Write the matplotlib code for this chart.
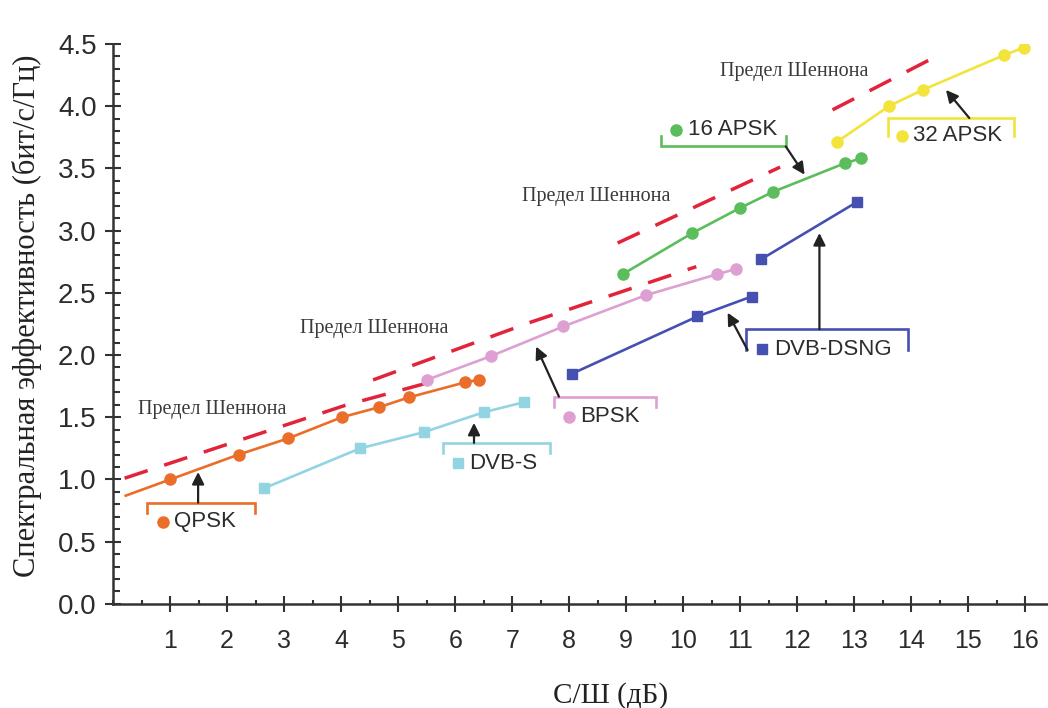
import matplotlib
matplotlib.use("Agg")
import matplotlib.pyplot as plt
from matplotlib.ticker import MultipleLocator

# ---- data ----
qpsk_x = [0.22, 1.0, 2.2, 3.07, 4.01, 4.66, 5.19, 6.17, 6.41]
qpsk_y = [0.87, 1.0, 1.2, 1.33, 1.50, 1.58, 1.66, 1.78, 1.80]

dvbs_x = [2.65, 4.33, 5.45, 6.5, 7.2]
dvbs_y = [0.93, 1.25, 1.38, 1.54, 1.62]

bpsk_x = [5.5, 6.62, 7.9, 9.34, 10.6, 10.92]
bpsk_y = [1.80, 1.99, 2.23, 2.48, 2.65, 2.69]

dsng1_x = [8.05, 10.25, 11.2]
dsng1_y = [1.85, 2.31, 2.47]
dsng2_x = [11.37, 13.05]
dsng2_y = [2.77, 3.23]

apsk16_x = [8.94, 10.16, 10.99, 11.57, 12.83, 13.12]
apsk16_y = [2.65, 2.98, 3.18, 3.31, 3.54, 3.58]

apsk32_x = [12.69, 13.61, 14.2, 15.63, 15.98]
apsk32_y = [3.71, 4.00, 4.13, 4.41, 4.47]

# Shannon limit pieces
sh1_x = [0.2, 4.1, 5.55]
sh1_y = [1.01, 1.60, 1.78]
sh2_x = [4.56, 7.3, 10.23]
sh2_y = [1.80, 2.26, 2.71]
sh3_x = [8.85, 11.7]
sh3_y = [2.90, 3.51]
sh4_x = [12.62, 14.44]
sh4_y = [3.97, 4.40]

shannon_label = "Предел Шеннона"
shannon_pos = [(0.44, 1.56), (3.28, 2.21), (7.17, 3.27), (10.64, 4.28)]

c_qpsk = "#EA6E2A"
c_dvbs = "#93D4E2"
c_bpsk = "#DE9FD2"
c_dsng = "#4650B0"
c_16 = "#5CBD5C"
c_32 = "#F2E43A"
c_sh = "#E2233A"
txt = "#2c2c2c"

fig = plt.figure(figsize=(10.48, 7.08), dpi=100)
ax = fig.add_axes([0.108, 0.147, 0.892, 0.791])

# Shannon limits
for xs, ys in [(sh1_x, sh1_y), (sh2_x, sh2_y), (sh3_x, sh3_y), (sh4_x, sh4_y)]:
    ax.plot(xs, ys, color=c_sh, lw=2.5, dashes=(7, 5), zorder=2)

ax.plot(qpsk_x, qpsk_y, color=c_qpsk, lw=1.9, marker="o", ms=8,
        markevery=list(range(1, len(qpsk_x))), zorder=3)
ax.plot(dvbs_x, dvbs_y, color=c_dvbs, lw=1.9, marker="s", ms=7, zorder=3)
ax.plot(bpsk_x, bpsk_y, color=c_bpsk, lw=1.9, marker="o", ms=8, zorder=3)
ax.plot(dsng1_x, dsng1_y, color=c_dsng, lw=1.9, marker="s", ms=7, zorder=3)
ax.plot(dsng2_x, dsng2_y, color=c_dsng, lw=1.9, marker="s", ms=7, zorder=3)
ax.plot(apsk16_x, apsk16_y, color=c_16, lw=1.9, marker="o", ms=8, zorder=3)
ax.plot(apsk32_x, apsk32_y, color=c_32, lw=1.9, marker="o", ms=8, zorder=3)

for (tx, ty) in shannon_pos:
    ax.text(tx, ty, shannon_label, family="Liberation Serif", fontsize=14.5,
            color="#3a3a3a", va="center", ha="left")


def bracket(x0, x1, y, yend, color):
    ax.plot([x0, x0, x1, x1], [yend, y, y, yend], color=color, lw=1.9,
            solid_joinstyle="miter", zorder=3)


def arrow(x0, y0, x1, y1):
    ax.annotate("", xy=(x1, y1), xytext=(x0, y0),
                arrowprops=dict(arrowstyle="-|>", color="#222222", lw=1.6,
                                mutation_scale=18, shrinkA=0, shrinkB=0),
                zorder=4)


def key(x, y, marker, color, label):
    ax.plot([x], [y], marker=marker, color=color, ms=8 if marker == "o" else 7,
            ls="none", zorder=3)
    ax.text(x + 0.2, y, label, family="Liberation Sans", fontsize=16,
            color=txt, va="center", ha="left")


# QPSK
bracket(0.59, 2.49, 0.814, 0.733, c_qpsk)
arrow(1.49, 0.814, 1.49, 1.06)
key(0.875, 0.66, "o", c_qpsk, "QPSK")
# DVB-S
bracket(5.78, 7.66, 1.294, 1.214, c_dvbs)
arrow(6.33, 1.294, 6.33, 1.455)
key(6.05, 1.13, "s", c_dvbs, "DVB-S")
# BPSK
bracket(7.73, 9.52, 1.666, 1.586, c_bpsk)
arrow(7.82, 1.666, 7.42, 2.068)
key(7.99, 1.506, "o", c_bpsk, "BPSK")
# DVB-DSNG
bracket(11.10, 13.95, 2.208, 2.04, c_dsng)
arrow(11.13, 2.04, 10.78, 2.34)
arrow(12.39, 2.208, 12.39, 2.98)
key(11.39, 2.046, "s", c_dsng, "DVB-DSNG")
# 16 APSK
bracket(9.61, 11.80, 3.676, 3.757, c_16)
arrow(11.80, 3.676, 12.13, 3.449)
key(9.88, 3.81, "o", c_16, "16 APSK")
# 32 APSK
bracket(13.59, 15.81, 3.904, 3.757, c_32)
arrow(15.02, 3.904, 14.61, 4.13)
key(13.84, 3.76, "o", c_32, "32 APSK")

ax.set_xlim(0, 16.4)
ax.set_ylim(0, 4.5)
ax.set_xticks(range(1, 17))
ax.set_yticks([0, 0.5, 1, 1.5, 2, 2.5, 3, 3.5, 4, 4.5])
ax.set_yticklabels(["0.0", "0.5", "1.0", "1.5", "2.0", "2.5", "3.0",
                    "3.5", "4.0", "4.5"])
ax.xaxis.set_minor_locator(MultipleLocator(0.5))
ax.yaxis.set_minor_locator(MultipleLocator(0.1))
ax.tick_params(axis="both", which="major", direction="inout", length=12,
               width=1.5, color="#333333", labelcolor=txt)
ax.tick_params(axis="y", which="minor", direction="in", length=5, width=1.5,
               color="#333333")
ax.tick_params(axis="x", which="minor", direction="in", length=3, width=1.5,
               color="#333333")
ax.tick_params(axis="y", which="major", pad=6, labelsize=20)
ax.tick_params(axis="x", which="major", pad=12, labelsize=18)
for lab in ax.get_xticklabels() + ax.get_yticklabels():
    lab.set_family("Liberation Sans")

for s in ["top", "right"]:
    ax.spines[s].set_visible(False)
for s in ["left", "bottom"]:
    ax.spines[s].set_linewidth(1.8)
    ax.spines[s].set_color("#333333")

ax.set_ylabel("Спектральная эффективность (бит/с/Гц)", family="Liberation Serif",
              fontsize=22, color="#222222")
ax.yaxis.set_label_coords(-0.076, 0.515)
ax.set_xlabel("С/Ш (дБ)", family="Liberation Serif", fontsize=21,
              color="#222222")
ax.xaxis.set_label_coords(0.532, -0.139)

fig.savefig("out.png", dpi=100)
